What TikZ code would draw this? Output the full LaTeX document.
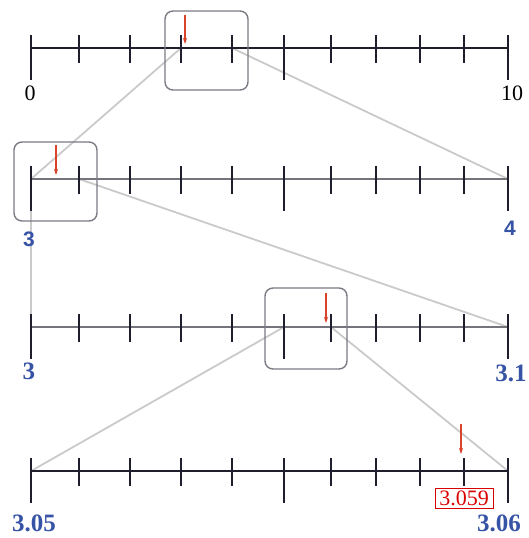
\documentclass[tikz,border=0pt]{standalone}
\usepackage{fontspec}
\setmainfont{Liberation Serif}
\setsansfont{Liberation Sans}
\usepackage{tikz}
\usepackage{xcolor}
\usetikzlibrary{arrows.meta,backgrounds}
\definecolor{inkdark}{HTML}{1E1E2C}
\definecolor{axisgray}{HTML}{74747C}
\definecolor{zoomgray}{HTML}{CACACA}
\definecolor{boxgray}{HTML}{7C7A82}
\definecolor{labelblue}{HTML}{3653A5}
\definecolor{markred}{HTML}{D8432A}
\newcommand{\ruler}[3]{
  \foreach \x [count=\i from 0] in {31,79,130,181,232,284,331,376,420,464,508}
    \coordinate (#1-\i) at (\x,#2);
  \draw [axis,#3] (#1-0) -- (#1-10);
  \foreach \i in {1,2,3,4,6,7,8,9}
    \draw [tick] ([yshift=13pt]#1-\i) -- ([yshift=-15pt]#1-\i);
  \foreach \i in {0,10}
    \draw [endtick] ([yshift=13pt]#1-\i) -- ([yshift=-32pt]#1-\i);
  \draw [midtick] ([yshift=13pt]#1-5) -- ([yshift=-32pt]#1-5);
}

\begin{document}
\begin{tikzpicture}[x=1pt,y=-1pt,
    axis/.style={draw=inkdark,line width=1.2pt},
    tick/.style={draw=inkdark,line width=2.2pt},
    endtick/.style={draw=inkdark,line width=2.6pt},
    midtick/.style={draw=inkdark,line width=1.4pt},
    zoomline/.style={draw=zoomgray,line width=1.8pt},
    zoombox/.style={draw=boxgray,line width=1.4pt,rounded corners=8pt},
    pointer/.style={draw=markred,line width=1.5pt,-{Stealth[length=6pt,width=4pt]}},
    plainnum/.style={font=\fontsize{22}{24}\selectfont,inner sep=0pt},
    sansnum/.style={font=\fontsize{21}{23}\selectfont\sffamily\bfseries,text=labelblue,inner sep=0pt},
    boldnum/.style={font=\fontsize{25}{27}\selectfont\bfseries,text=labelblue,inner sep=0pt},
    answer/.style={draw=red!85!black,line width=0.9pt,text=red!85!black,font=\fontsize{22}{24}\selectfont,inner xsep=3pt,inner ysep=2pt,minimum width=58pt,minimum height=20pt}]
  \useasboundingbox (0,0) rectangle (528,538);

  \ruler{r1}{48}{}
  \ruler{r2}{179}{draw=axisgray}
  \ruler{r3}{327}{draw=axisgray}
  \ruler{r4}{471}{}

  \begin{scope}[on background layer]
    \draw [zoomline] (r1-3) -- (r2-0);
    \draw [zoomline] (r1-4) -- (r2-10);
    \draw [zoomline] (r2-0) -- (r3-0);
    \draw [zoomline] (r2-1) -- (r3-10);
    \draw [zoomline] (r3-5) -- (r4-0);
    \draw [zoomline] (r3-6) -- (r4-10);
  \end{scope}

  \draw [zoombox] (165,11) rectangle (248,90);
  \draw [zoombox] (14,142) rectangle (97,221);
  \draw [zoombox] (265,288) rectangle (347,369);

  \coordinate (p1) at (185,15);
  \coordinate (q1) at (185,44);
  \coordinate (p2) at (56,145);
  \coordinate (q2) at (56,175);
  \coordinate (p3) at (326,293);
  \coordinate (q3) at (326,323);
  \coordinate (p4) at (461,424);
  \coordinate (q4) at (461,454);
  \foreach \k in {1,2,3,4}
    \draw [pointer] (p\k) -- (q\k);

  \node [plainnum] (zero) at (30,93) {0};
  \node [plainnum] (ten) at (512,93) {10};
  \node [sansnum] (three) at (29,239) {3};
  \node [sansnum] (four) at (510,228) {4};
  \node [boldnum] (threeb) at (29,371) {3};
  \node [boldnum] (threeone) at (511,373) {3.1};
  \node [boldnum] (threeofive) at (34,523) {3.05};
  \node [boldnum] (threeosix) at (499,523) {3.06};
  \node [answer] (result) at (464,498) {3.059};
\end{tikzpicture}
\end{document}
